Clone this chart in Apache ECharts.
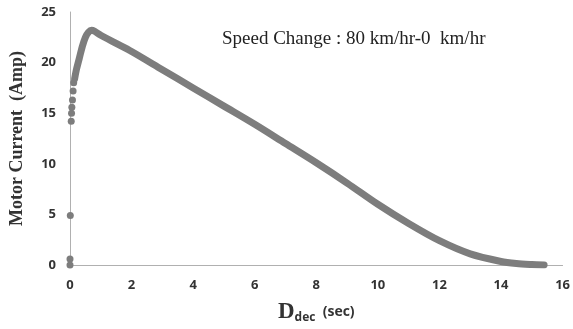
<!DOCTYPE html>
<html>
<head>
<meta charset="utf-8">
<script src="https://cdn.jsdelivr.net/npm/echarts@6/dist/echarts.min.js"></script>
<style>
  html, body { margin: 0; padding: 0; background: #fff; }
  #chart { width: 573px; height: 329px; }
</style>
</head>
<body>
<div id="chart"></div>
<script>
// time (sec) and motor current (Amp)
const timeSec = [0.15, 0.2, 0.3, 0.4, 0.5, 0.6, 0.7, 0.8, 1.0, 1.5, 2, 3, 4, 5, 6, 7, 8, 9, 10, 11, 12, 13, 14, 14.5, 15, 15.4]
const currentAmp = [18.4, 19.2, 20.4, 21.6, 22.5, 23.0, 23.2, 23.1, 22.7, 21.9, 21.1, 19.3, 17.5, 15.7, 13.9, 12.0, 10.1, 8.1, 6.0, 4.1, 2.4, 1.1, 0.35, 0.15, 0.05, 0.0]
// separate start-up points near t = 0
const startTime = [0, 0, 0.01, 0.04, 0.05, 0.06, 0.08, 0.1, 0.12]
const startAmp = [0, 0.6, 4.9, 14.2, 15.0, 15.6, 16.3, 17.2, 18.0]
const xTicks = [0, 2, 4, 6, 8, 10, 12, 14, 16]
const yTicks = [0, 5, 10, 15, 20, 25]

const chart = echarts.init(document.getElementById('chart'))
const grey = '#7d7d7d'
const tickFont = { color: '#333', fontSize: 13, fontWeight: 'bold', fontFamily: 'Open Sans' }

chart.setOption({
  animation: false,
  grid: { left: 70, right: 7, top: 12, bottom: 60 },
  xAxis: {
    type: 'value', min: xTicks[0], max: xTicks[xTicks.length - 1], interval: 2,
    axisLine: { lineStyle: { color: '#b0b0b0', width: 1 } },
    axisTick: { show: false },
    splitLine: { show: false },
    axisLabel: Object.assign({ margin: 14 }, tickFont),
    name: '{d|D}{sub|dec}{s|  (sec)}',
    nameLocation: 'middle', nameGap: 35,
    nameTextStyle: {
      rich: {
        d: { fontFamily: 'Liberation Serif', fontWeight: 'bold', fontSize: 23, color: '#333' },
        sub: { fontFamily: 'Open Sans', fontWeight: 'bold', fontSize: 12, color: '#333', padding: [12, 0, 0, 0] },
        s: { fontFamily: 'Open Sans', fontWeight: 'bold', fontSize: 14, color: '#333' }
      }
    }
  },
  yAxis: {
    type: 'value', min: yTicks[0], max: yTicks[yTicks.length - 1], interval: 5,
    axisLine: { show: true, lineStyle: { color: '#b0b0b0', width: 1 } },
    axisTick: { show: false },
    splitLine: { show: false },
    axisLabel: Object.assign({ margin: 14 }, tickFont),
    name: 'Motor Current  (Amp)',
    nameLocation: 'middle', nameGap: 44,
    nameTextStyle: { fontFamily: 'Liberation Serif', fontWeight: 'bold', fontSize: 18, color: '#333' }
  },
  graphic: [{
    type: 'text', left: 222, top: 30,
    style: { text: 'Speed Change : 80 km/hr-0  km/hr', fontFamily: 'Liberation Serif', fontSize: 19, fill: '#222' }
  }],
  series: [
    {
      type: 'line',
      data: timeSec.map((t, i) => [t, currentAmp[i]]),
      showSymbol: false,
      smooth: 0.3,
      lineStyle: { color: grey, width: 7, cap: 'round', join: 'round' }
    },
    {
      type: 'scatter',
      data: startTime.map((t, i) => [t, startAmp[i]]),
      symbolSize: 7,
      itemStyle: { color: grey, opacity: 1 }
    }
  ]
})
</script>
</body>
</html>
